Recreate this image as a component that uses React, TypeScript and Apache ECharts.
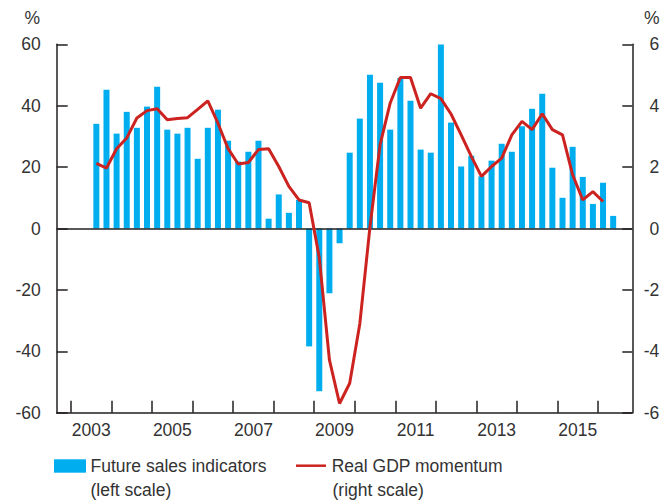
import React, { useEffect, useRef } from "react";
import * as echarts from "echarts";

// first quarter shown: 2003 Q3
const startYear = 2003;
const startQuarter = 3;

// Future sales indicators (left scale, %), quarterly
const salesIndicators = [
  34.1, 45.2, 30.9, 38.0, 32.8, 39.7, 46.2, 32.2, 30.9, 32.8,
  22.7, 32.8, 38.7, 28.6, 21.8, 25.0, 28.6, 3.2, 11.1, 5.1,
  9.3, -38.4, -53.0, -21.1, -4.8, 24.7, 35.8, 50.1, 47.5, 32.2,
  49.0, 41.6, 25.7, 24.7, 59.9, 34.5, 20.2, 23.7, 17.0, 22.1,
  27.6, 25.0, 33.3, 39.0, 43.9, 19.8, 10.0, 26.6, 16.8, 8.0,
  14.9, 4.1,
];

// Real GDP momentum (right scale, %), quarterly
const gdpMomentum = [
  2.12, 1.97, 2.6, 2.95, 3.6, 3.84, 3.9, 3.54, 3.58, 3.61,
  3.88, 4.16, 3.43, 2.6, 2.1, 2.15, 2.57, 2.6, 2.02, 1.37,
  0.93, 0.84, -0.95, -4.28, -5.7, -5.04, -3.1, 0.05, 2.73, 4.09,
  4.92, 4.92, 3.92, 4.39, 4.23, 3.73, 3.05, 2.35, 1.7, 2.02,
  2.29, 3.05, 3.49, 3.22, 3.74, 3.22, 3.05, 1.75, 0.93, 1.2,
  0.88,
];

const tickYears = [2003, 2004, 2005, 2006, 2007, 2008, 2009, 2010, 2011, 2012, 2013, 2014, 2015, 2016];
const labelYears = [2003, 2005, 2007, 2009, 2011, 2013, 2015];
const leftTicks = { min: -60, max: 60, interval: 20 };
const rightTicks = { min: -6, max: 6, interval: 2 };

const legendNames = ["Future sales indicators", "(left scale)", "Real GDP momentum", "(right scale)"];

// x position (in years) of the middle of the i-th quarter
const quarterX = (i: number) => {
  const q = startQuarter - 1 + i;
  return startYear + Math.floor(q / 4) + ((q % 4) + 0.5) / 4;
};

const AXIS = "#231f20";
const TEXT = "#333333";
const BLUE = "#00aeef";
const RED = "#cc2320";
const FONT = "'Liberation Sans', Arial, Helvetica, sans-serif";
const FS = 17.5;

export default function App() {
  const ref = useRef<HTMLDivElement>(null);
  useEffect(() => {
    if (!ref.current) return;
    const chart = echarts.init(ref.current, null, { renderer: "svg" });
    const lineStyle = { color: AXIS, width: 1.5 };
    const option: any = {
      animation: false,
      textStyle: { fontFamily: FONT },
      grid: { left: 56.7, right: 38.7, top: 44.3, bottom: 87.3, outerBoundsMode: "none" },
      xAxis: {
        type: "value",
        min: 2002.647,
        max: 2016.847,
        axisLine: { show: true, onZero: false, lineStyle },
        axisTick: { show: true, inside: true, length: 12, customValues: tickYears, lineStyle },
        axisLabel: {
          customValues: labelYears.map((y) => y + 0.5),
          formatter: (v: number) => String(Math.floor(v)),
          fontSize: FS,
          color: TEXT,
          fontFamily: FONT,
          margin: 8,
        },
        splitLine: { show: false },
      },
      yAxis: [
        {
          type: "value",
          position: "left",
          ...leftTicks,
          axisLine: { show: true, onZero: false, lineStyle },
          axisTick: { show: true, inside: true, length: 11, lineStyle },
          axisLabel: { fontSize: FS, color: TEXT, fontFamily: FONT, margin: 16 },
          splitLine: { show: false },
        },
        {
          type: "value",
          position: "right",
          ...rightTicks,
          axisLine: { show: true, onZero: false, lineStyle },
          axisTick: { show: true, inside: true, length: 10, lineStyle },
          axisLabel: { fontSize: FS, color: TEXT, fontFamily: FONT, margin: 27, align: "right" },
          splitLine: { show: false },
        },
      ],
      series: [
        {
          name: legendNames[0],
          type: "bar",
          xAxisIndex: 0,
          yAxisIndex: 0,
          barWidth: 6,
          itemStyle: { color: BLUE },
          data: salesIndicators.map((v, i) => [quarterX(i), v]),
          markLine: {
            silent: true,
            symbol: ["none", "none"],
            label: { show: false },
            lineStyle: { color: AXIS, width: 1.5, type: "solid" },
            data: [{ yAxis: 0 }],
          },
        },
        {
          name: legendNames[2],
          type: "line",
          xAxisIndex: 0,
          yAxisIndex: 1,
          symbol: "none",
          lineStyle: { color: RED, width: 3 },
          itemStyle: { color: RED },
          z: 5,
          data: gdpMomentum.map((v, i) => [quarterX(i), v]),
        },
      ],
      graphic: [
        { type: "text", x: 40, y: 18, style: { text: "%", fontSize: FS, fontFamily: FONT, fill: TEXT, align: "right", verticalAlign: "middle" } },
        { type: "text", x: 659.5, y: 18, style: { text: "%", fontSize: FS, fontFamily: FONT, fill: TEXT, align: "right", verticalAlign: "middle" } },
        { type: "rect", shape: { x: 54, y: 459.3, width: 32, height: 13.4 }, style: { fill: BLUE } },
        { type: "text", x: 90.5, y: 466, style: { text: legendNames[0], fontSize: FS, fontFamily: FONT, fill: TEXT, align: "left", verticalAlign: "middle" } },
        { type: "text", x: 90.5, y: 490, style: { text: legendNames[1], fontSize: FS, fontFamily: FONT, fill: TEXT, align: "left", verticalAlign: "middle" } },
        { type: "line", shape: { x1: 296, y1: 465.7, x2: 326, y2: 465.7 }, style: { stroke: RED, lineWidth: 2.5 } },
        { type: "text", x: 331.7, y: 466, style: { text: legendNames[2], fontSize: FS, fontFamily: FONT, fill: TEXT, align: "left", verticalAlign: "middle" } },
        { type: "text", x: 332.5, y: 490, style: { text: legendNames[3], fontSize: FS, fontFamily: FONT, fill: TEXT, align: "left", verticalAlign: "middle" } },
      ],
    };
    chart.setOption(option);
    return () => chart.dispose();
  }, []);
  return (
    <div
      ref={ref}
      style={{ position: "fixed", left: 0, top: 0, width: 671, height: 500, background: "#ffffff" }}
    />
  );
}
